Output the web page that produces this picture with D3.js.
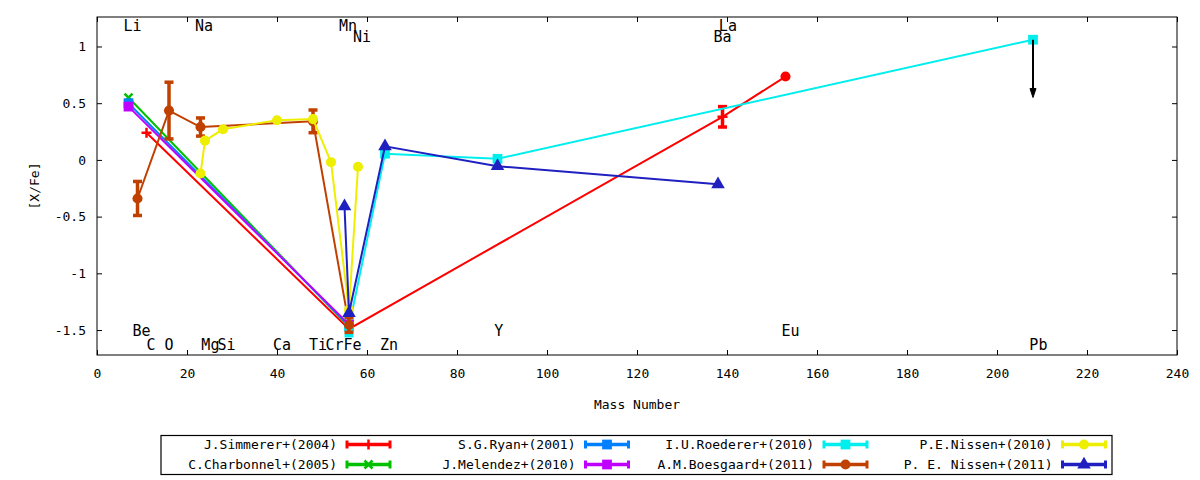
<!DOCTYPE html>
<html>
<head>
<meta charset="utf-8">
<title>[X/Fe] vs Mass Number</title>
<script src="https://cdn.jsdelivr.net/npm/d3@7"></script>
<style>
body { margin: 0; background: #fff; }
text { font-family: "DejaVu Sans Mono", monospace; fill: #000; }
.axis path { display: none; }
.axis line { stroke: #000; }
</style>
</head>
<body>
<svg width="1200" height="480"></svg>
<script>

// ---- data (mass number, [X/Fe], error) ----
var simmerer   = [{m: 11, v: 0.24}, {m: 56, v: -1.49}, {m: 139, v: 0.38, e: 0.09}, {m: 153, v: 0.735}];
var charbonnel = [{m: 7, v: 0.55}, {m: 56, v: -1.47}];
var ryan       = [{m: 7, v: 0.50}, {m: 56, v: -1.46}];
var melendez   = [{m: 7, v: 0.47}, {m: 56, v: -1.45}];
var roederer   = [{m: 56, v: -1.47, e: 0.08}, {m: 64, v: 0.055}, {m: 89, v: 0.01}, {m: 208, v: 1.06}];
var boesgaard  = [{m: 9, v: -0.34, e: 0.15}, {m: 16, v: 0.435, e: 0.25}, {m: 23, v: 0.29, e: 0.08},
                  {m: 48, v: 0.34, e: 0.1}, {m: 56, v: -1.455, e: 0.065}];
var nissen10   = [{m: 23, v: -0.12}, {m: 24, v: 0.17}, {m: 28, v: 0.27}, {m: 40, v: 0.35},
                  {m: 48, v: 0.36}, {m: 52, v: -0.02}, {m: 56, v: -1.32}, {m: 58, v: -0.06}];
var nissen11   = [{m: 55, v: -0.41}, {m: 56, v: -1.35}, {m: 64, v: 0.12}, {m: 89, v: -0.055}, {m: 138, v: -0.215}];

// upper limit arrow on Pb
var pbLimit = {m: 208, from: 1.06, to: 0.55};

// element labels
var elemNames = ["Li", "Na", "Mn", "Ni", "La", "Ba", "Be", "C", "O", "Mg", "Si", "Ca", "Ti", "Cr", "Fe", "Zn", "Y", "Eu", "Pb"];
var elemX     = [7.9, 23.8, 55.8, 58.9, 140.2, 139.0, 9.9, 12.0, 16.0, 25.2, 28.8, 41.1, 49.1, 52.8, 56.8, 64.9, 89.3, 154.1, 209.2];
var elemY     = [1.18, 1.18, 1.18, 1.09, 1.18, 1.09, -1.505, -1.63, -1.63, -1.63, -1.63, -1.63, -1.63, -1.63, -1.63, -1.63, -1.505, -1.505, -1.63];

var xTicks = [0, 20, 40, 60, 80, 100, 120, 140, 160, 180, 200, 220, 240];
var yTicks = [-1.5, -1, -0.5, 0, 0.5, 1];

var series = [
  {name: "J.Simmerer+(2004)",   data: simmerer,   color: "#ff0000", sym: "plus", last: "circle"},
  {name: "C.Charbonnel+(2005)", data: charbonnel, color: "#00c000", sym: "cross"},
  {name: "S.G.Ryan+(2001)",     data: ryan,       color: "#0080ff", sym: "square"},
  {name: "J.Melendez+(2010)",   data: melendez,   color: "#c000ff", sym: "square"},
  {name: "I.U.Roederer+(2010)", data: roederer,   color: "#00eeee", sym: "square"},
  {name: "A.M.Boesgaard+(2011)",data: boesgaard,  color: "#c04000", sym: "circle"},
  {name: "P.E.Nissen+(2010)",   data: nissen10,   color: "#eeee00", sym: "circle"},
  {name: "P. E. Nissen+(2011)", data: nissen11,   color: "#2020c0", sym: "triangle"}
];

var svg = d3.select("svg"),
    pL = 97, pR = 1177, pT = 17, pB = 355;

var x = d3.scaleLinear().domain([0, 240]).range([pL, pR]),
    y = d3.scaleLinear().domain([-1.72, 1.26]).range([pB, pT]);

svg.append("rect").attr("width", 1200).attr("height", 480).attr("fill", "#fff");

// axes (ticks pointing inward, mirrored)
svg.append("g").attr("class", "axis")
    .attr("transform", "translate(0," + pB + ")")
    .call(d3.axisBottom(x).tickValues(xTicks).tickSizeInner(-5).tickSizeOuter(0).tickPadding(14))
    .selectAll("text").style("font-size", "13px");
svg.append("g").attr("class", "axis")
    .attr("transform", "translate(0," + pT + ")")
    .call(d3.axisTop(x).tickValues(xTicks).tickSizeInner(-5).tickSizeOuter(0).tickFormat(""));
svg.append("g").attr("class", "axis")
    .attr("transform", "translate(" + pL + ",0)")
    .call(d3.axisLeft(y).tickValues(yTicks).tickSizeInner(-5).tickSizeOuter(0).tickPadding(11)
      .tickFormat(function(d) { return String(d); }))
    .selectAll("text").style("font-size", "13px");
svg.append("g").attr("class", "axis")
    .attr("transform", "translate(" + pR + ",0)")
    .call(d3.axisRight(y).tickValues(yTicks).tickSizeInner(-5).tickSizeOuter(0).tickFormat(""));

svg.append("rect")
    .attr("x", pL).attr("y", pT)
    .attr("width", pR - pL).attr("height", pB - pT)
    .attr("fill", "none").attr("stroke", "#000").attr("stroke-width", 1);

svg.append("text")
    .attr("transform", "translate(34," + ((pT + pB) / 2) + ") rotate(-90)")
    .attr("text-anchor", "middle").attr("dy", "0.36em")
    .style("font-size", "13px").text("[X/Fe]");
svg.append("text")
    .attr("x", (pL + pR) / 2).attr("y", 404)
    .attr("text-anchor", "middle").attr("dy", "0.36em")
    .style("font-size", "13px").text("Mass Number");

// element labels
elemNames.forEach(function(n, i) {
  svg.append("text")
      .attr("x", x(elemX[i])).attr("y", y(elemY[i]))
      .attr("text-anchor", "middle").attr("dy", "0.36em")
      .style("font-size", "15px").text(n);
});

function drawMarker(g, type, color) {
  if (type === "plus") {
    g.append("path").attr("d", "M-5,0H5M0,-5V5")
      .attr("stroke", color).attr("stroke-width", 2.5).attr("fill", "none");
  } else if (type === "cross") {
    g.append("path").attr("d", "M-4,-4L4,4M-4,4L4,-4")
      .attr("stroke", color).attr("stroke-width", 2.5).attr("fill", "none");
  } else {
    var sym = {square: d3.symbolSquare, circle: d3.symbolCircle, triangle: d3.symbolTriangle}[type];
    var size = {square: 95, circle: 80, triangle: 80}[type];
    g.append("path").attr("d", d3.symbol().type(sym).size(size)()).attr("fill", color);
  }
}

function errorBar(g, x0, y0, y1, color, sw) {
  g.append("line").attr("x1", x0).attr("x2", x0).attr("y1", y0).attr("y2", y1)
    .attr("stroke", color).attr("stroke-width", sw);
  [y0, y1].forEach(function(yy) {
    g.append("line").attr("x1", x0 - 4.5).attr("x2", x0 + 4.5).attr("y1", yy).attr("y2", yy)
      .attr("stroke", color).attr("stroke-width", sw);
  });
}

var line = d3.line().x(function(d) { return x(d.m); }).y(function(d) { return y(d.v); });

series.forEach(function(s) {
  var g = svg.append("g");
  g.append("path").datum(s.data).attr("d", line)
    .attr("fill", "none").attr("stroke", s.color).attr("stroke-width", 2);
  s.data.forEach(function(d, i) {
    if (d.e) errorBar(g, x(d.m), y(d.v - d.e), y(d.v + d.e), s.color, 3.5);
    var type = (s.last && i === s.data.length - 1) ? s.last : s.sym;
    drawMarker(g.append("g").attr("transform", "translate(" + x(d.m) + "," + y(d.v) + ")"), type, s.color);
  });
});

// upper-limit arrow
var ax = x(pbLimit.m), ay0 = y(pbLimit.from), ay1 = y(pbLimit.to);
svg.append("line").attr("x1", ax).attr("x2", ax).attr("y1", ay0).attr("y2", ay1 - 6)
  .attr("stroke", "#000").attr("stroke-width", 2);
svg.append("path")
  .attr("d", "M" + (ax - 3) + "," + (ay1 - 9) + "L" + (ax + 3) + "," + (ay1 - 9) + "L" + ax + "," + ay1 + "Z")
  .attr("fill", "#000").attr("stroke", "#000").attr("stroke-width", 1);

// legend
var lg = svg.append("g");
lg.append("rect").attr("x", 161).attr("y", 435.5).attr("width", 951).attr("height", 39)
  .attr("fill", "none").attr("stroke", "#000").attr("stroke-width", 1.2);

series.forEach(function(s, k) {
  var col = Math.floor(k / 2), row = k % 2;
  var tx = 337 + col * 238.5, ty = 444.5 + row * 20;
  lg.append("text").attr("x", tx).attr("y", ty).attr("text-anchor", "end").attr("dy", "0.36em")
    .style("font-size", "13px").text(s.name);
  var x0 = tx + 10, x1 = tx + 53;
  lg.append("line").attr("x1", x0).attr("x2", x1).attr("y1", ty).attr("y2", ty)
    .attr("stroke", s.color).attr("stroke-width", 3.5);
  [x0, x1].forEach(function(xx) {
    lg.append("line").attr("x1", xx).attr("x2", xx).attr("y1", ty - 4).attr("y2", ty + 4)
      .attr("stroke", s.color).attr("stroke-width", 3);
  });
  drawMarker(lg.append("g").attr("transform", "translate(" + ((x0 + x1) / 2) + "," + ty + ")"), s.sym, s.color);
});

</script>
</body>
</html>
